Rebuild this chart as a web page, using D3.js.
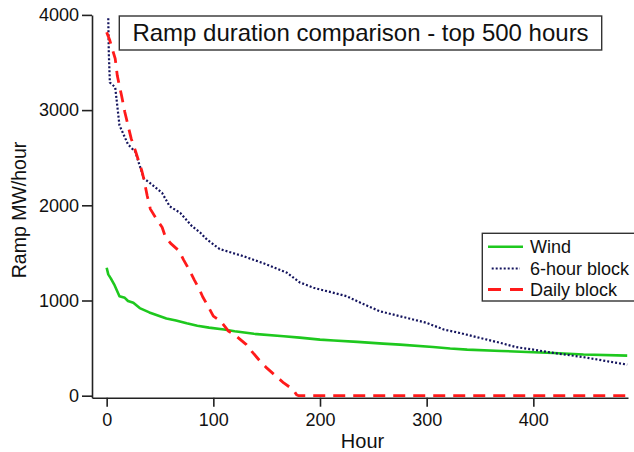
<!DOCTYPE html>
<html>
<head>
<meta charset="utf-8">
<script src="https://cdn.jsdelivr.net/npm/d3@7"></script>
<style>
  html, body { margin: 0; padding: 0; background: #fff; }
  svg { display: block; }
  text { font-family: "Liberation Sans", Arial, sans-serif; fill: #111; }
</style>
</head>
<body>
<div id="chart"></div>
<script>
// data (hour rank, MW/hour)
const windHours = [0, 1.5, 4, 7, 12, 17, 20, 25, 31, 40, 50, 56, 65, 75, 85, 96, 110, 120, 138, 166, 181, 200, 213, 235, 259, 275, 306, 322, 338, 370, 400, 419, 447, 488];
const windRamp  = [1344, 1274, 1230, 1170, 1045, 1028, 995, 976, 920, 875, 835, 812, 790, 760, 735, 715, 695, 677, 650, 624, 610, 589, 580, 565, 547, 537, 512, 495, 484, 470, 456, 449, 432, 421];

const sixHours = [1.5, 2, 3, 8, 12, 20, 27, 30, 35, 40, 52, 59, 69, 80, 88, 94, 106, 128, 150, 169, 181, 194, 200, 219, 225, 238, 256, 275, 300, 316, 331, 350, 369, 384, 400, 419, 447, 488];
const sixRamp  = [3965, 3600, 3290, 3240, 2840, 2640, 2560, 2450, 2280, 2240, 2130, 1990, 1920, 1780, 1710, 1640, 1540, 1466, 1379, 1292, 1190, 1134, 1116, 1063, 1045, 976, 887, 835, 765, 695, 659, 607, 555, 510, 484, 449, 405, 326];

const dailyHours = [0, 3, 8, 10, 14, 17, 23, 27, 33, 35, 38, 41, 47, 52, 55, 60, 68, 72, 77, 82, 87, 90, 95, 100, 107, 114, 120, 131, 136, 144, 150, 159, 166, 175, 178, 180, 488];
const dailyRamp  = [3817, 3730, 3540, 3360, 3150, 2980, 2700, 2570, 2360, 2270, 2100, 1960, 1850, 1770, 1670, 1600, 1520, 1430, 1330, 1220, 1116, 1040, 940, 835, 782, 680, 640, 537, 466, 361, 292, 203, 134, 63, 10, 0, 0];

const xTicks = [0, 100, 200, 300, 400];
const yTicks = [0, 1000, 2000, 3000, 4000];
const seriesNames = ["Wind", "6-hour block", "Daily block"];

const W = 634, H = 452;

const svg = d3.select("#chart")
    .append("svg")
    .attr("width", W)
    .attr("height", H);

const x = d3.scaleLinear()
    .domain([-13.75, 488.75])
    .range([92, 628]);

const y = d3.scaleLinear()
    .domain([-21, 4000])
    .range([397.7, 14.9]);

// axes
const xAxis = svg.append("g")
    .attr("transform", `translate(0, ${y(-21)})`)
    .call(d3.axisBottom(x).tickValues(xTicks).tickFormat(d3.format("d"))
        .tickSize(9).tickSizeOuter(0).tickPadding(7));

const yAxis = svg.append("g")
    .attr("transform", `translate(${x(-13.75)}, 0)`)
    .call(d3.axisLeft(y).tickValues(yTicks).tickFormat(d3.format("d"))
        .tickSize(10).tickSizeOuter(0).tickPadding(3));

[xAxis, yAxis].forEach(function (a) {
    a.selectAll("path, line").attr("stroke", "#222").attr("stroke-width", 1.6);
    a.selectAll("text")
        .style("font-size", "18px")
        .style("font-family", "'Liberation Sans', Arial, sans-serif")
        .attr("fill", "#111");
});

// axis labels
svg.append("text")
    .attr("x", 362.5)
    .attr("y", 448)
    .attr("text-anchor", "middle")
    .style("font-size", "20px")
    .text("Hour");

svg.append("text")
    .attr("transform", "translate(26, 210) rotate(-90)")
    .attr("text-anchor", "middle")
    .style("font-size", "19.5px")
    .text("Ramp MW/hour");

// lines
const line = d3.line()
    .x(function (d) { return x(d[0]); })
    .y(function (d) { return y(d[1]); });

const windPts = windHours.map(function (h, i) { return [h, windRamp[i]]; });
const sixPts = sixHours.map(function (h, i) { return [h, sixRamp[i]]; });
const dailyPts = dailyHours.map(function (h, i) { return [h, dailyRamp[i]]; });

const styles = [
    { color: "#1ec81e", width: 2.6, dash: null },
    { color: "#14145e", width: 2.2, dash: "2,2" },
    { color: "#ff1a1a", width: 2.8, dash: "12,8" }
];

[windPts, sixPts, dailyPts].forEach(function (pts, i) {
    svg.append("path")
        .datum(pts)
        .attr("fill", "none")
        .attr("stroke", styles[i].color)
        .attr("stroke-width", styles[i].width)
        .attr("stroke-dasharray", styles[i].dash)
        .attr("stroke-linejoin", "round")
        .attr("d", line);
});

// title box
const title = svg.append("g");
title.append("rect")
    .attr("x", 119.3)
    .attr("y", 16)
    .attr("width", 482.4)
    .attr("height", 34)
    .attr("fill", "#fff")
    .attr("stroke", "#333")
    .attr("stroke-width", 1.4);
title.append("text")
    .attr("x", 360.5)
    .attr("y", 40.5)
    .attr("text-anchor", "middle")
    .style("font-size", "24px")
    .text("Ramp duration comparison - top 500 hours");

// legend
const legend = svg.append("g");
legend.append("rect")
    .attr("x", 482.3)
    .attr("y", 233.3)
    .attr("width", 160)
    .attr("height", 67.7)
    .attr("fill", "#fff")
    .attr("stroke", "#333")
    .attr("stroke-width", 1.4);

const legendY = [246.7, 268.5, 289.5];
seriesNames.forEach(function (name, i) {
    legend.append("line")
        .attr("x1", i == 1 ? 491.7 : 488)
        .attr("x2", i == 1 ? 520 : 523)
        .attr("y1", legendY[i])
        .attr("y2", legendY[i])
        .attr("stroke", styles[i].color)
        .attr("stroke-width", styles[i].width)
        .attr("stroke-dasharray", i == 2 ? "13,9" : styles[i].dash);
    legend.append("text")
        .attr("x", 530)
        .attr("y", legendY[i] + 6.5)
        .style("font-size", "18px")
        .text(name);
});
</script>
</body>
</html>
